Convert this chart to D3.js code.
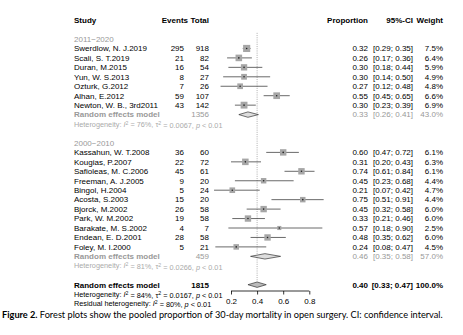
<!DOCTYPE html>
<html>
<head>
<meta charset="utf-8">
<title>Forest plot</title>
<style>
  body { margin: 0; background: #fff; }
  svg { display: block; font-family: "Liberation Sans", Arial, sans-serif; }
  .g { fill: #999; }
  .het { fill: #aaa; }
</style>
</head>
<body>
<script src="https://cdn.jsdelivr.net/npm/d3@7/dist/d3.min.js"></script>
<script>

// studies, group 2011-2020
var studies1 = ["Swerdlow, N. J.2019", "Scali, S. T.2019", "Duran, M.2015", "Yun, W. S.2013",
                "Ozturk, G.2012", "Alhan, E.2012", "Newton, W. B., 3rd2011"];
var events1  = [295, 21, 16, 8, 7, 59, 43];
var totals1  = [918, 82, 54, 27, 26, 107, 142];
var prop1    = [0.32, 0.26, 0.30, 0.30, 0.27, 0.55, 0.30];
var lower1   = [0.29, 0.17, 0.18, 0.14, 0.12, 0.45, 0.23];
var upper1   = [0.35, 0.36, 0.44, 0.50, 0.48, 0.65, 0.39];
var weight1  = [7.5, 6.4, 5.9, 4.9, 4.8, 6.6, 6.9];

// studies, group 2000-2010
var studies2 = ["Kassahun, W. T.2008", "Kougias, P.2007", "Safioleas, M. C.2006", "Freeman, A. J.2005",
                "Bingol, H.2004", "Acosta, S.2003", "Bjorck, M.2002", "Park, W. M.2002",
                "Barakate, M. S.2002", "Endean, E. D.2001", "Foley, M. I.2000"];
var events2  = [36, 22, 45, 9, 5, 15, 26, 19, 4, 28, 5];
var totals2  = [60, 72, 61, 20, 24, 20, 58, 58, 7, 58, 21];
var prop2    = [0.60, 0.31, 0.74, 0.45, 0.21, 0.75, 0.45, 0.33, 0.57, 0.48, 0.24];
var lower2   = [0.47, 0.20, 0.61, 0.23, 0.07, 0.51, 0.32, 0.21, 0.18, 0.35, 0.08];
var upper2   = [0.72, 0.43, 0.84, 0.68, 0.42, 0.91, 0.58, 0.46, 0.90, 0.62, 0.47];
var weight2  = [6.1, 6.3, 6.1, 4.4, 4.7, 4.4, 6.0, 6.0, 2.5, 6.0, 4.5];

// pooled estimates: [subgroup 1, subgroup 2, overall]
var groupNames  = ["2011\u22122020", "2000\u22122010"];
var pooledTotal = [1356, 459, 1815];
var pooledProp  = [0.33, 0.46, 0.40];
var pooledLower = [0.26, 0.35, 0.33];
var pooledUpper = [0.41, 0.58, 0.47];
var pooledWeight = ["43.0%", "57.0%", "100.0%"];
var hetI2  = ["76%", "81%", "84%"];
var hetTau = ["0.0067", "0.0266", "0.0167"];
var residI2 = "80%";

var axisTicks = [0.2, 0.4, 0.6, 0.8];

var width = 463, height = 335;
var svg = d3.select("body").append("svg")
    .attr("width", width)
    .attr("height", height);

var x = d3.scaleLinear().domain([0.2, 0.8]).range([231, 309.3]);
// row index -> vertical position
var y = d3.scaleLinear().domain([0, 28]).range([39, 303.6]);

var col = {study: 74, events: 184, total: 209, prop: 368, ci: 413, weight: 443};
var f2 = d3.format(".2f");

function text(xp, row, str, anchor, cls) {
  return svg.append("text")
    .attr("x", xp).attr("y", y(row))
    .attr("dy", "0.35em")
    .attr("text-anchor", anchor || "start")
    .attr("class", cls || null)
    .style("font-size", "8px")
    .text(str);
}

// headers
var hdr = [["Study", col.study, "start"], ["Events", 188, "end"], ["Total", col.total, "end"],
           ["Proportion", col.prop, "end"], ["95%-CI", col.ci, "end"], ["Weight", col.weight, "end"]];
hdr.forEach(h => text(h[1], -1.95, h[0], h[2]).style("font-weight", "bold"));

// reference dotted line at overall estimate
svg.append("line")
  .attr("x1", x(pooledProp[2])).attr("x2", x(pooledProp[2]))
  .attr("y1", y(-0.65)).attr("y2", y(26) - 3)
  .attr("stroke", "#999").attr("stroke-width", 0.8)
  .attr("stroke-dasharray", "1,1.2");

var size = w => 2.6 * Math.sqrt(w);

function drawStudies(names, ev, tot, p, lo, hi, wt, start) {
  names.forEach(function(n, i) {
    var r = start + i;
    text(col.study, r, n);
    text(col.events, r, ev[i], "end");
    text(col.total, r, tot[i], "end");
    text(col.prop, r, f2(p[i]), "end");
    text(col.ci, r, "[" + f2(lo[i]) + "; " + f2(hi[i]) + "]", "end");
    text(col.weight, r, wt[i].toFixed(1) + "%", "end");

    svg.append("line")
      .attr("x1", x(lo[i])).attr("x2", x(hi[i]))
      .attr("y1", y(r)).attr("y2", y(r))
      .attr("stroke", "#444").attr("stroke-width", 0.8);
    var s = size(wt[i]);
    svg.append("rect")
      .attr("x", x(p[i]) - s / 2).attr("y", y(r) - s / 2)
      .attr("width", s).attr("height", s)
      .attr("fill", "#a6a6a6");
    svg.append("circle")
      .attr("cx", x(p[i])).attr("cy", y(r)).attr("r", 0.8)
      .attr("fill", "#222");
  });
}

function diamond(k, r) {
  var cy = y(r), h = 2.7;
  var pts = [[x(pooledLower[k]), cy], [x(pooledProp[k]), cy - h],
             [x(pooledUpper[k]), cy], [x(pooledProp[k]), cy + h]];
  svg.append("polygon")
    .attr("points", pts.map(d => d.join(",")).join(" "))
    .attr("fill", k == 2 ? "#bbb" : "#ddd")
    .attr("stroke", "#333").attr("stroke-width", 0.7);
}

function hetLine(row, label, i2, tau, cls) {
  var t = svg.append("text")
    .attr("x", col.study).attr("y", y(row)).attr("dy", "0.35em")
    .attr("class", cls).style("font-size", "7.3px");
  t.append("tspan").text(label);
  t.append("tspan").style("font-style", "italic").text("I");
  t.append("tspan").attr("dy", "-0.4em").style("font-size", "5.2px").text("2");
  t.append("tspan").attr("dy", "0.4em").text(" = " + i2 + ", ");
  if (tau) {
    t.append("tspan").text("\u03c4");
    t.append("tspan").attr("dy", "-0.4em").style("font-size", "5.2px").text("2");
    t.append("tspan").attr("dy", "0.4em").text(" = " + tau + ", ");
  }
  t.append("tspan").style("font-style", "italic").text("p");
  t.append("tspan").text(" < 0.01");
}

function summaryRow(k, r, cls, bold) {
  var w = bold ? "bold" : "normal";
  text(col.study, r, "Random effects model", "start", cls).style("font-weight", "bold");
  text(col.total, r, pooledTotal[k], "end", cls).style("font-weight", w);
  text(col.prop, r, f2(pooledProp[k]), "end", cls).style("font-weight", w);
  text(col.ci, r, "[" + f2(pooledLower[k]) + "; " + f2(pooledUpper[k]) + "]", "end", cls).style("font-weight", w);
  text(col.weight, r, pooledWeight[k], "end", cls).style("font-weight", w);
  diamond(k, r);
}

// group 1
text(col.study, 0, groupNames[0], "start", "g");
drawStudies(studies1, events1, totals1, prop1, lower1, upper1, weight1, 1);
summaryRow(0, 8, "g", false);
hetLine(9, "Heterogeneity: ", hetI2[0], hetTau[0], "het");

// group 2
text(col.study, 11, groupNames[1], "start", "g");
drawStudies(studies2, events2, totals2, prop2, lower2, upper2, weight2, 12);
summaryRow(1, 23, "g", false);
hetLine(24, "Heterogeneity: ", hetI2[1], hetTau[1], "het");

// overall
summaryRow(2, 26, null, true);
hetLine(27, "Heterogeneity: ", hetI2[2], hetTau[2], null);
hetLine(28, "Residual heterogeneity: ", residI2, null, null);

// axis
var axisY = 291;
var ax = svg.append("g")
  .attr("transform", "translate(0," + axisY + ")")
  .call(d3.axisBottom(x).tickValues(axisTicks).tickSize(3.5).tickPadding(3.5).tickFormat(d3.format(".1f")));
ax.select(".domain").attr("d", "M" + x(0.2) + ",0H" + x(0.8)).attr("stroke", "#000").attr("stroke-width", 0.8);
ax.selectAll(".tick line").attr("stroke-width", 0.8);
ax.selectAll(".tick text").style("font-size", "8px").style("font-family", "'Liberation Sans', Arial, sans-serif");

// caption
var cap = svg.append("text")
  .attr("x", 2).attr("y", 318)
  .style("font-family", "Lato, 'Open Sans', sans-serif")
  .style("font-size", "9.2px");
cap.append("tspan").style("font-weight", "bold").text("Figure 2.");
cap.append("tspan").text(" Forest plots show the pooled proportion of 30-day mortality in open surgery. CI: confidence interval.");

</script>
</body>
</html>
